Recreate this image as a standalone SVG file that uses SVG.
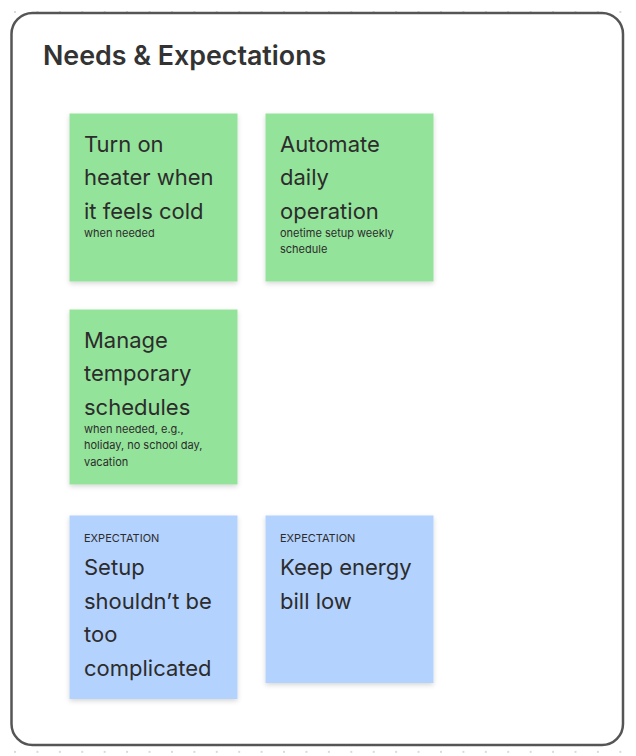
<svg xmlns="http://www.w3.org/2000/svg" width="636" height="756" viewBox="0 0 636 756">
  <defs>
    <pattern id="dots" x="15" y="12" width="22.42" height="22.42" patternUnits="userSpaceOnUse">
      <circle cx="0" cy="0" r="0.9" fill="#c8c8c8"/>
      <circle cx="22.42" cy="0" r="0.9" fill="#c8c8c8"/>
      <circle cx="0" cy="22.42" r="0.9" fill="#c8c8c8"/>
      <circle cx="22.42" cy="22.42" r="0.9" fill="#c8c8c8"/>
    </pattern>
    <filter id="shadow" x="-10%" y="-10%" width="120%" height="125%">
      <feDropShadow dx="0" dy="2" stdDeviation="2.5" flood-color="#000" flood-opacity="0.16"/>
    </filter>
    <style>
      .frame { fill: #ffffff; stroke: #555555; stroke-width: 2.5; }
      .title { font-family: Inter, "Liberation Sans", sans-serif; font-size: 26.8px; font-weight: 600; fill: #333333; }
      .need { fill: #94e39a; filter: url(#shadow); }
      .expect { fill: #b4d2fe; filter: url(#shadow); }
      .big { font-family: Inter, "Liberation Sans", sans-serif; font-size: 22px; fill: #2c2c2c; }
      .small { font-family: Inter, "Liberation Sans", sans-serif; font-size: 11px; fill: #2c2c2c; }
      .tag { font-family: Inter, "Liberation Sans", sans-serif; font-size: 11px; fill: #2c2c2c; }
    </style>
  </defs>

  <!-- canvas with dot grid -->
  <rect x="0" y="0" width="636" height="756" fill="#ffffff"/>
  <rect x="0" y="0" width="636" height="756" fill="url(#dots)"/>

  <!-- section frame -->
  <g id="section">
    <rect class="frame" x="11.5" y="13" width="611.5" height="732" rx="21"/>
    <text class="title" x="43" y="64.5">Needs &amp; Expectations</text>
  </g>

  <g id="need-heater">
    <rect class="need" x="69.5" y="113.5" width="168" height="168"/>
    <text class="big" x="84"><tspan x="84" y="151.7">Turn on</tspan><tspan x="84" y="185.2">heater when</tspan><tspan x="84" y="218.7">it feels cold</tspan></text>
    <text class="small" x="84" y="236.7">when needed</text>
  </g>

  <g id="need-automate">
    <rect class="need" x="265.5" y="113.5" width="168" height="168"/>
    <text class="big"><tspan x="280" y="151.7">Automate</tspan><tspan x="280" y="185.2">daily</tspan><tspan x="280" y="218.7">operation</tspan></text>
    <text class="small"><tspan x="280" y="236.7">onetime setup weekly</tspan><tspan x="280" y="253.4">schedule</tspan></text>
  </g>

  <g id="need-temporary">
    <rect class="need" x="69.5" y="309.5" width="168" height="175"/>
    <text class="big"><tspan x="84" y="347.7">Manage</tspan><tspan x="84" y="381.2">temporary</tspan><tspan x="84" y="414.7">schedules</tspan></text>
    <text class="small"><tspan x="84" y="432.7">when needed, e.g.,</tspan><tspan x="84" y="449.4">holiday, no school day,</tspan><tspan x="84" y="466.1">vacation</tspan></text>
  </g>

  <g id="expect-setup">
    <rect class="expect" x="69.5" y="515.5" width="168" height="183.5"/>
    <text class="tag" x="84" y="541.7">EXPECTATION</text>
    <text class="big"><tspan x="84" y="575.2">Setup</tspan><tspan x="84" y="608.7">shouldn’t be</tspan><tspan x="84" y="642.2">too</tspan><tspan x="84" y="675.7">complicated</tspan></text>
  </g>

  <g id="expect-energy">
    <rect class="expect" x="265.5" y="515.5" width="168" height="167.5"/>
    <text class="tag" x="280" y="541.7">EXPECTATION</text>
    <text class="big"><tspan x="280" y="575.2">Keep energy</tspan><tspan x="280" y="608.7">bill low</tspan></text>
  </g>

  <g id="connectors"/>
</svg>
